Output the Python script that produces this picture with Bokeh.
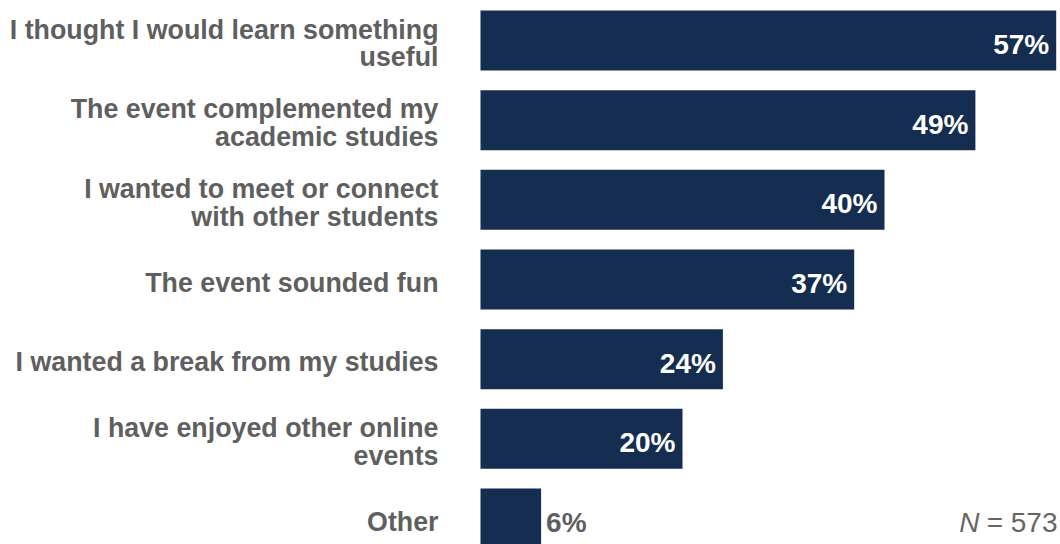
from bokeh.plotting import figure
from bokeh.models import Range1d, ColumnDataSource, Label
from bokeh.core.properties import value
from bokeh.embed import file_html
from bokeh.resources import INLINE

categories = [
    "I thought I would learn something\nuseful",
    "The event complemented my\nacademic studies",
    "I wanted to meet or connect\nwith other students",
    "The event sounded fun",
    "I wanted a break from my studies",
    "I have enjoyed other online\nevents",
    "Other",
]
values = [57, 49, 40, 37, 24, 20, 6]
n_label = "573"

BAR = "#142D50"
GRAY = "#5f5f5f"
FONT_NAME = "Liberation Sans"
FONT = value(FONT_NAME)

W, H = 1060, 544
x0_px = 480.0          # pixel position of value 0
px_per_unit = 10.1
row_px = 79.67
first_row_px = 40.0

ys = list(range(len(categories)))

p = figure(
    width=W, height=H, output_backend="svg", toolbar_location=None,
    x_axis_type=None, y_axis_type=None, min_border=0,
    x_range=Range1d(-x0_px / px_per_unit, (W - x0_px) / px_per_unit),
    y_range=Range1d((H - first_row_px) / row_px, -first_row_px / row_px),
)
p.grid.visible = False
p.outline_line_color = None
p.background_fill_color = "white"
p.border_fill_color = "white"

src = ColumnDataSource(dict(y=ys, v=values, cat=categories))
p.hbar(y="y", left=0, right="v", height=60 / row_px, source=src,
       fill_color=BAR, line_color=None)

p.text(x=0, y="y", text="cat", source=src, x_offset=-42, y_offset=3,
       text_align="right", text_baseline="middle", text_font=FONT,
       text_font_style="bold", text_font_size="26.8px", text_color=GRAY,
       text_line_height=0.93)

inside = [i for i, v in enumerate(values) if v >= 10]
outside = [i for i, v in enumerate(values) if v < 10]
src_in = ColumnDataSource(dict(y=[ys[i] for i in inside], v=[values[i] for i in inside],
                               lab=[f"{values[i]}%" for i in inside]))
src_out = ColumnDataSource(dict(y=[ys[i] for i in outside], v=[values[i] for i in outside],
                                lab=[f"{values[i]}%" for i in outside]))
p.text(x="v", y="y", text="lab", source=src_in, x_offset=-7, y_offset=4,
       text_align="right", text_baseline="middle", text_font=FONT,
       text_font_style="bold", text_font_size="28px", text_color="white")
p.text(x="v", y="y", text="lab", source=src_out, x_offset=5, y_offset=4,
       text_align="left", text_baseline="middle", text_font=FONT,
       text_font_style="bold", text_font_size="28px", text_color=GRAY)

p.add_layout(Label(x=W - 3, y=22, x_units="screen", y_units="screen",
                   text="= " + n_label, text_align="right", text_baseline="middle",
                   text_font=FONT_NAME, text_font_size="28px", text_color="#666666"))
p.add_layout(Label(x=W - 81, y=22, x_units="screen", y_units="screen",
                   text="N", text_align="right", text_baseline="middle",
                   text_font=FONT_NAME, text_font_style="italic", text_font_size="28px",
                   text_color="#666666"))

open("out.html", "w").write(file_html(p, INLINE))
